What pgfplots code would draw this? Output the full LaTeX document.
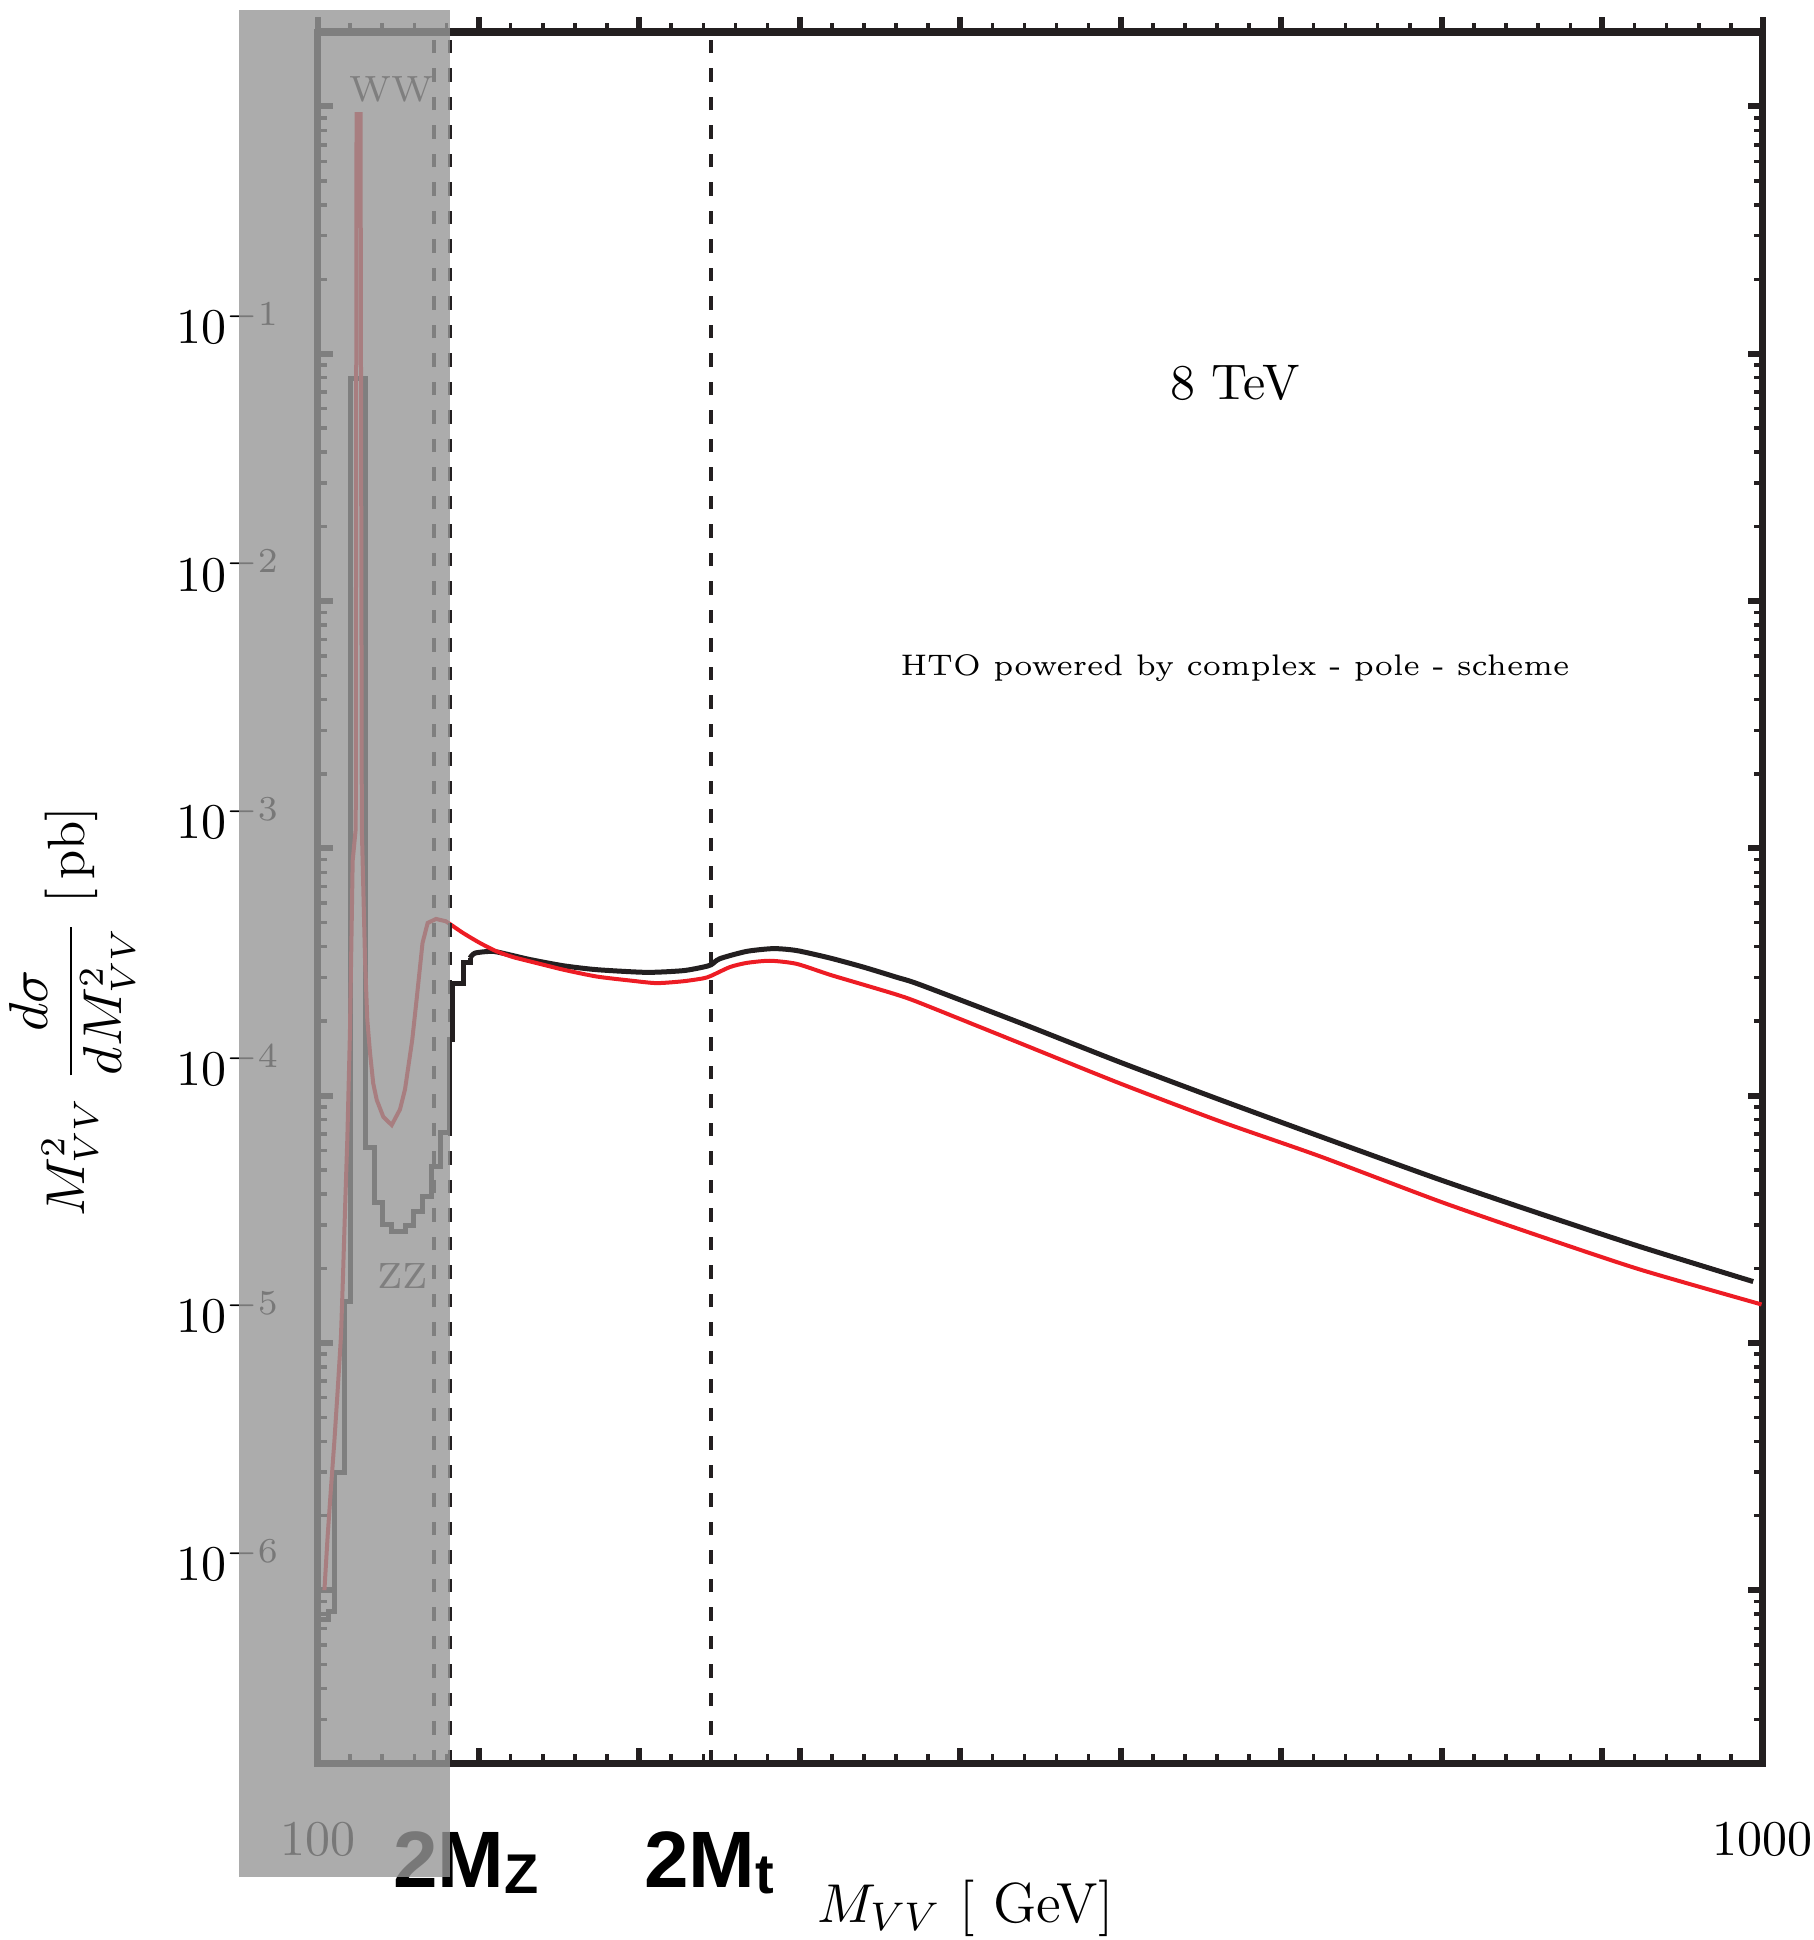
\documentclass[border=0pt]{standalone}
\usepackage{fontspec}
\newfontfamily\arialfont{Liberation Sans}
\usepackage{pgfplots}
\pgfplotsset{compat=1.18}
\definecolor{framecol}{RGB}{35,31,32}
\definecolor{redcol}{RGB}{237,28,36}
\definecolor{bandcol}{RGB}{151,151,151}

\begin{document}
\begin{tikzpicture}
\begin{axis}[
  name=main, at={(0,0)}, anchor=south west,
  scale only axis, width=289pt, height=346.2pt,
  xmin=100, xmax=1000, ymin=2e-7, ymax=2, ymode=log,
  clip=false,
  axis line style={line width=1.4pt, framecol},
  xtick={100,200,...,1000},
  xticklabels={100,{},{},{},{},{},{},{},{},1000},
  minor x tick num=4,
  xtick pos=left, ytick pos=both,
  ytick={1e-6,1e-5,1e-4,1e-3,1e-2,1e-1,1},
  yticklabels={$10^{-6}$,$10^{-5}$,$10^{-4}$,$10^{-3}$,$10^{-2}$,$10^{-1}$,{}},
  minor ytick={3e-7,4e-7,5e-7,6e-7,7e-7,8e-7,9e-7,2e-6,3e-6,4e-6,5e-6,6e-6,7e-6,8e-6,9e-6,2e-5,3e-5,4e-5,5e-5,6e-5,7e-5,8e-5,9e-5,2e-4,3e-4,4e-4,5e-4,6e-4,7e-4,8e-4,9e-4,2e-3,3e-3,4e-3,5e-3,6e-3,7e-3,8e-3,9e-3,2e-2,3e-2,4e-2,5e-2,6e-2,7e-2,8e-2,9e-2,0.2,0.3,0.4,0.5,0.6,0.7,0.8,0.9},
  tick align=inside,
  major tick length=3pt, minor tick length=1.8pt,
  every major tick/.append style={line width=1.2pt, framecol},
  every minor tick/.append style={line width=0.7pt, framecol},
  xticklabel style={anchor=base, yshift=-18.4pt},
  yticklabel style={anchor=base east, xshift=-4.0pt, yshift=2.0pt},
  xlabel={$M_{VV}$ [ GeV]},
  ylabel={$M^2_{VV}\;\displaystyle\frac{d\sigma}{dM^2_{VV}}$ [\,pb]},
  every axis x label/.style={at={(axis description cs:0.448,-0.0838)}, anchor=center, font=\fontsize{11.3}{13}\selectfont},
  every axis y label/.style={at={(axis description cs:-0.1702,0.434)}, rotate=90, anchor=center, font=\fontsize{10.5}{12}\selectfont},
]
% black histogram (low mass)
\addplot[framecol, line width=1pt, forget plot] coordinates {
(100,7.6e-7) (106.4,7.6e-7) (106.4,8.2e-7) (110.2,8.2e-7) (110.2,2.98e-6) (116.8,2.98e-6)
(116.8,1.47e-5) (120.4,1.47e-5) (120.4,0.0795) (129.7,0.0795) (129.7,6.14e-5) (134.9,6.14e-5)
(134.9,3.68e-5) (140.3,3.68e-5) (140.3,3.0e-5) (145.9,3.0e-5) (145.9,2.83e-5) (154.2,2.83e-5)
(154.2,2.98e-5) (159.4,2.98e-5) (159.4,3.4e-5) (165.2,3.4e-5) (165.2,3.92e-5) (170.8,3.92e-5)
(170.8,5.18e-5) (176.0,5.18e-5) (176.0,7.06e-5) (181.8,7.06e-5) (181.8,1.68e-4) (184.0,1.68e-4)
(184.0,2.85e-4) (190.5,2.85e-4) (190.5,3.44e-4) (194.7,3.44e-4) (194.7,3.6e-4)
};
% black curve (above threshold)
\addplot[framecol, line width=1pt, smooth, tension=0.4, forget plot] coordinates {
(194.7,3.6e-4) (197.8,3.77e-4) (209,3.83e-4) (221.6,3.68e-4) (232,3.55e-4) (252.8,3.35e-4) (273.6,3.23e-4)
(304.7,3.15e-4) (327.3,3.2e-4) (340,3.31e-4) (344.8,3.38e-4) (350.4,3.58e-4) (367,3.83e-4)
(383.6,3.93e-4) (398.1,3.86e-4) (418.9,3.6e-4) (439.6,3.31e-4) (460.4,3.01e-4) (474.9,2.81e-4)
(537.2,1.97e-4) (599.5,1.365e-4) (661.8,9.62e-5) (724.1,6.84e-5) (798.8,4.57e-5)
(861.1,3.33e-5) (923.4,2.45e-5) (993.9,1.77e-5)
};
% red curve (low mass)
\addplot[redcol, line width=0.8pt, forget plot] coordinates {
(104.0,1.0e-6) (106.0,1.65e-6) (108.1,2.6e-6) (110.2,4.0e-6) (112.3,6.5e-6) (114.3,1.06e-5)
(115.5,1.8e-5) (116.8,3.4e-5) (118.3,6.8e-5) (119.9,1.8e-4) (121.0,5.0e-4) (121.6,8.9e-4)
(123.5,1.2e-3) (124.0,0.93) (126.5,0.93) (127.3,1.2e-3) (127.8,8.9e-4) (129.3,3.55e-4)
(130.7,2.03e-4) (132.4,1.49e-4) (134.4,1.12e-4) (136.6,9.6e-5) (140.7,8.2e-5) (145.9,7.6e-5)
(151.1,8.8e-5) (154.2,1.06e-4) (158.7,1.68e-4) (161.4,2.44e-4) (165.1,4.14e-4) (168.3,4.99e-4)
(173.5,5.18e-4) (179.6,5.07e-4) (182.4,4.93e-4)
};
% red curve (above threshold)
\addplot[redcol, line width=0.8pt, smooth, tension=0.4, forget plot] coordinates {
(182.4,4.93e-4) (190.5,4.54e-4) (200.9,4.14e-4) (211.3,3.83e-4)
(221.6,3.63e-4) (232,3.49e-4) (252.8,3.23e-4) (273.6,3.03e-4) (294.3,2.92e-4) (310.9,2.85e-4)
(327.5,2.9e-4) (340,2.98e-4) (344.8,3.05e-4) (356.6,3.31e-4) (367,3.44e-4) (381.5,3.51e-4)
(398.1,3.41e-4) (418.9,3.08e-4) (439.6,2.81e-4) (460.4,2.56e-4) (474.9,2.37e-4) (537.2,1.63e-4)
(599.5,1.12e-4) (661.8,7.87e-5) (724.1,5.68e-5) (798.8,3.73e-5) (861.1,2.7e-5)
(923.4,1.98e-5) (999.1,1.43e-5)
};
% threshold lines
\addplot[framecol, line width=0.8pt, dash pattern=on 2.7pt off 3pt, forget plot] coordinates {(172.5,2e-7) (172.5,2)};
\addplot[framecol, line width=0.8pt, dash pattern=on 2.7pt off 3pt, forget plot] coordinates {(182.4,2e-7) (182.4,2)};
\addplot[framecol, line width=0.8pt, dash pattern=on 2.7pt off 3pt, forget plot] coordinates {(345,2e-7) (345,2)};
% texts
\node[font=\normalsize] at (axis cs:671.1,0.0759) {8 TeV};
\node[font=\fontsize{5.95}{7}\selectfont] at (axis cs:671.1,5.37e-3) {HTO powered by complex - pole - scheme};
\node[font=\fontsize{7.3}{8}\selectfont, framecol] at (axis cs:145.5,1.174) {WW};
\node[font=\fontsize{7.3}{8}\selectfont, framecol] at (axis cs:152.6,1.86e-5) {ZZ};
\node[anchor=base, yshift=-24.8pt, inner sep=0pt, font=\arialfont\bfseries\fontsize{16}{18}\selectfont] at (axis cs:192.2,2e-7) {2M\raisebox{-1.2pt}{\fontsize{11.2}{12}\selectfont Z}};
\node[anchor=base, yshift=-24.8pt, inner sep=0pt, font=\arialfont\bfseries\fontsize{16}{18}\selectfont] at (axis cs:343.5,2e-7) {2M\raisebox{-1.2pt}{\fontsize{11.2}{12}\selectfont t}};
\coordinate (bandA) at (axis cs:50.8,6.9e-8);
\coordinate (bandB) at (axis cs:182.4,2.45);
\end{axis}
% top axis with outward ticks
\begin{axis}[
  at={(0,0)}, anchor=south west,
  scale only axis, width=289pt, height=346.2pt,
  xmin=100, xmax=1000, ymin=2e-7, ymax=2, ymode=log,
  axis x line*=top, axis y line=none,
  every outer x axis line/.append style={-},
  x axis line style={-, line width=1.4pt, framecol},
  xtick={100,200,...,1000}, xticklabels={},
  minor x tick num=4,
  tick align=outside,
  major tick length=3pt, minor tick length=1.8pt,
  every major tick/.append style={line width=1.2pt, framecol},
  every minor tick/.append style={line width=0.7pt, framecol},
]
\addplot[draw=none, forget plot] coordinates {(500,1e-3)};
\end{axis}
\fill[bandcol, opacity=0.8] (bandA) rectangle (bandB);
\pgfresetboundingbox
\path (-63.6pt,-35.4pt) rectangle (299pt,352.6pt);
\end{tikzpicture}
\end{document}
